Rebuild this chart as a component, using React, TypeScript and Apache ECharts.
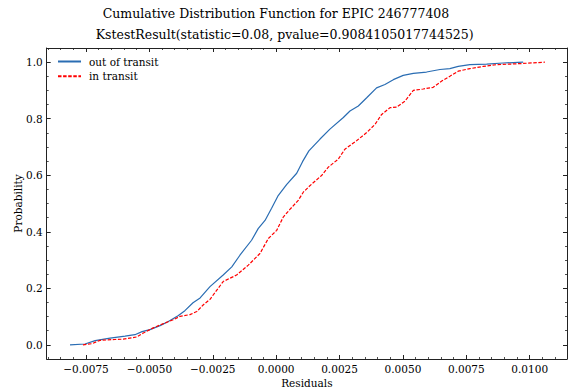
import React, { useEffect, useRef } from "react";
import * as echarts from "echarts";

// Empirical CDF of residuals outside transit
const outOfTransitResiduals = [
  -0.00813, -0.00754, -0.00714, -0.00655, -0.00596, -0.00557, -0.00529, -0.00498,
  -0.00458, -0.00427, -0.00387, -0.0036, -0.00328, -0.003, -0.00261, -0.00209,
  -0.00175, -0.00143, -0.00097, -0.00071, -0.00044, -0.00018, 0.00008, 0.00041,
  0.00081, 0.00104, 0.00129, 0.00173, 0.00212, 0.00265, 0.00291, 0.00324, 0.00357,
  0.00396, 0.00429, 0.00462, 0.00501, 0.00541, 0.00593, 0.00646, 0.00685, 0.00718,
  0.00764, 0.0083, 0.00895, 0.00974,
];
const outOfTransitCdf = [
  0.0, 0.003, 0.015, 0.024, 0.031, 0.036, 0.047, 0.054,
  0.068, 0.082, 0.103, 0.121, 0.149, 0.166, 0.206, 0.247,
  0.276, 0.317, 0.37, 0.411, 0.44, 0.483, 0.528, 0.567,
  0.607, 0.648, 0.686, 0.728, 0.763, 0.804, 0.827, 0.845, 0.874,
  0.909, 0.921, 0.938, 0.953, 0.96, 0.965, 0.974, 0.977, 0.985,
  0.991, 0.993, 0.997, 1.0,
];

// Empirical CDF of residuals in transit
const inTransitResiduals = [
  -0.00762, -0.00727, -0.00695, -0.00636, -0.00603, -0.0055, -0.00524, -0.00485,
  -0.00445, -0.00406, -0.00379, -0.0034, -0.00313, -0.00287, -0.00261, -0.00209,
  -0.00156, -0.0011, -0.00064, -0.00031, 0.00002, 0.00028, 0.00054, 0.00087,
  0.00107, 0.00133, 0.00179, 0.00205, 0.00245, 0.00271, 0.00317, 0.00357, 0.0039,
  0.00416, 0.00449, 0.00475, 0.00508, 0.00541, 0.0058, 0.00619, 0.00653, 0.00685,
  0.00718, 0.00764, 0.00817, 0.00869, 0.00922, 0.00988, 0.0106,
];
const inTransitCdf = [
  0.0, 0.004, 0.016, 0.019, 0.02, 0.028, 0.042, 0.06,
  0.075, 0.089, 0.101, 0.107, 0.118, 0.142, 0.161, 0.224,
  0.247, 0.282, 0.323, 0.376, 0.405, 0.452, 0.479, 0.511,
  0.54, 0.563, 0.599, 0.628, 0.657, 0.692, 0.722, 0.751, 0.78,
  0.815, 0.839, 0.841, 0.862, 0.9, 0.905, 0.911, 0.933, 0.95,
  0.968, 0.977, 0.985, 0.991, 0.993, 0.996, 1.0,
];

const xMajorTicks = [-0.0075, -0.005, -0.0025, 0, 0.0025, 0.005, 0.0075, 0.01];
const yMajorTicks = [0, 0.2, 0.4, 0.6, 0.8, 1.0];

const X_MIN = -0.00905;
const X_MAX = 0.01147;
const Y_MIN = -0.05;
const Y_MAX = 1.05;

const titleLine1 = "Cumulative Distribution Function for EPIC 246777408";
const titleLine2 = "KstestResult(statistic=0.08, pvalue=0.9084105017744525)";

const SERIF = "DejaVu Serif";

// minor tick positions on a fixed step, skipping the major ones
function minorTicks(lo: number, hi: number, step: number, majors: number[]) {
  const out: number[] = [];
  const start = Math.ceil(lo / step - 1e-9);
  const end = Math.floor(hi / step + 1e-9);
  for (let k = start; k <= end; k++) {
    const v = +(k * step).toFixed(6);
    if (!majors.some((m) => Math.abs(m - v) < step / 10)) out.push(v);
  }
  return out;
}

const fmtX = (v: number) => {
  if (Math.abs(v) < 1e-12) return "0.0000";
  return (v < 0 ? "\u2212" : "") + Math.abs(v).toFixed(4);
};
const fmtY = (v: number) => v.toFixed(1);

export default function App() {
  const ref = useRef<HTMLDivElement>(null);

  useEffect(() => {
    if (!ref.current) return;
    const chart = echarts.init(ref.current, null, { renderer: "svg" });

    const xMinor = minorTicks(X_MIN, X_MAX, 0.0005, xMajorTicks);
    const yMinor = minorTicks(Y_MIN, Y_MAX, 0.05, yMajorTicks);

    const spine = { show: true, onZero: false, lineStyle: { color: "#222", width: 1 } };
    const noSpine = { show: false, onZero: false };

    const xAxisBase = {
      type: "value" as const,
      min: X_MIN,
      max: X_MAX,
      splitLine: { show: false },
    };
    const yAxisBase = {
      type: "value" as const,
      min: Y_MIN,
      max: Y_MAX,
      splitLine: { show: false },
    };

    const majorTick = (vals: number[]) => ({
      show: true,
      inside: true,
      length: 4,
      customValues: vals,
      lineStyle: { color: "#222", width: 1 },
    });
    const minorTick = (vals: number[]) => ({
      show: true,
      inside: true,
      length: 2,
      customValues: vals,
      lineStyle: { color: "#222", width: 0.8 },
    });

    const titleStyle = (text: string) => ({
      text,
      fontFamily: SERIF,
      fontSize: 12.5,
      fill: "#000",
      align: "center",
      verticalAlign: "middle",
    });

    chart.setOption({
      animation: false,
      backgroundColor: "#fff",
      graphic: [
        { type: "text", x: 276, y: 13, style: titleStyle(titleLine1) },
        { type: "text", x: 284.7, y: 34.3, style: titleStyle(titleLine2) },
      ],
      legend: {
        orient: "vertical",
        left: 57,
        top: 56,
        padding: 0,
        itemWidth: 23,
        itemHeight: 12,
        itemGap: 3.7,
        itemStyle: { opacity: 0 },
        textStyle: {
          fontFamily: SERIF,
          fontSize: 10.5,
          color: "#000",
          padding: [0, 0, 0, 3],
        },
        data: ["out of transit", "in transit"],
      },
      grid: { left: 46.7, right: 1, top: 48, bottom: 33, outerBoundsMode: "none" },
      xAxis: [
        {
          ...xAxisBase,
          position: "bottom",
          axisLine: spine,
          axisTick: majorTick(xMajorTicks),
          axisLabel: {
            show: true,
            customValues: xMajorTicks,
            formatter: fmtX,
            margin: 4,
            fontFamily: SERIF,
            fontSize: 10.5,
            color: "#000",
          },
          name: "Residuals",
          nameLocation: "middle",
          nameGap: 18,
          nameMoveOverlap: false,
          nameTextStyle: { fontFamily: SERIF, fontSize: 10.5, color: "#000" },
        },
        {
          ...xAxisBase,
          position: "bottom",
          axisLine: noSpine,
          axisTick: minorTick(xMinor),
          axisLabel: { show: false },
        },
        {
          ...xAxisBase,
          position: "top",
          axisLine: spine,
          axisTick: majorTick(xMajorTicks),
          axisLabel: { show: false },
        },
        {
          ...xAxisBase,
          position: "top",
          axisLine: noSpine,
          axisTick: minorTick(xMinor),
          axisLabel: { show: false },
        },
      ],
      yAxis: [
        {
          ...yAxisBase,
          position: "left",
          axisLine: spine,
          axisTick: majorTick(yMajorTicks),
          axisLabel: {
            show: true,
            customValues: yMajorTicks,
            formatter: fmtY,
            margin: 4,
            fontFamily: SERIF,
            fontSize: 10.5,
            color: "#000",
          },
          name: "Probability",
          nameLocation: "middle",
          nameGap: 23.5,
          nameRotate: 90,
          nameMoveOverlap: false,
          nameTextStyle: { fontFamily: SERIF, fontSize: 10.5, color: "#000" },
        },
        {
          ...yAxisBase,
          position: "left",
          axisLine: noSpine,
          axisTick: minorTick(yMinor),
          axisLabel: { show: false },
        },
        {
          ...yAxisBase,
          position: "right",
          axisLine: spine,
          axisTick: majorTick(yMajorTicks),
          axisLabel: { show: false },
        },
        {
          ...yAxisBase,
          position: "right",
          axisLine: noSpine,
          axisTick: minorTick(yMinor),
          axisLabel: { show: false },
        },
      ],
      series: [
        {
          name: "out of transit",
          type: "line",
          xAxisIndex: 0,
          yAxisIndex: 0,
          data: outOfTransitResiduals.map((x, i) => [x, outOfTransitCdf[i]]),
          showSymbol: false,
          symbol: "none",
          color: "#2a6db3",
          lineStyle: { color: "#2a6db3", width: 1.2 },
        },
        {
          name: "in transit",
          type: "line",
          xAxisIndex: 0,
          yAxisIndex: 0,
          data: inTransitResiduals.map((x, i) => [x, inTransitCdf[i]]),
          showSymbol: false,
          symbol: "none",
          color: "#ff0000",
          lineStyle: { color: "#ff0000", width: 1.2, type: [3.5, 1.6] },
        },
      ],
    });

    return () => chart.dispose();
  }, []);

  return <div ref={ref} style={{ width: 568, height: 392, position: "absolute", left: 0, top: 0 }} />;
}
